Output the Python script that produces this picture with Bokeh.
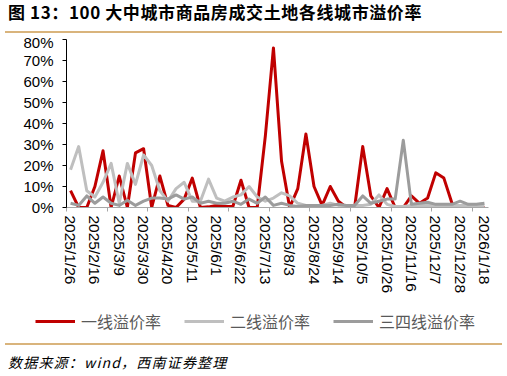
import numpy as np
from bokeh.plotting import figure
from bokeh.models import (Range1d, FixedTicker, NumeralTickFormatter, Legend,
                          LegendItem, Div, ColumnDataSource)
from bokeh.layouts import column
from bokeh.embed import file_html
from bokeh.resources import INLINE

# ---- data (weekly, 2025/1/26 .. 2026/1/18), values in % ----
week_index = list(range(52))
tick_weeks = list(range(0, 52, 3))
tick_labels = ["2025/1/26", "2025/2/16", "2025/3/9", "2025/3/30", "2025/4/20",
               "2025/5/11", "2025/6/1", "2025/6/22", "2025/7/13", "2025/8/3",
               "2025/8/24", "2025/9/14", "2025/10/5", "2025/10/26", "2025/11/16",
               "2025/12/7", "2025/12/28", "2026/1/18"]

tier1 = [8, 0, 0, 10, 27, 0, 15, 0, 26, 28, 0, 15, 1, 0, 4, 14, 0, 0.3, 1, 0.5,
         0.5, 13, 0, 0, 34, 76, 22, 0, 9, 35, 10, 1, 10, 3, 0, 0, 29, 5.5, 0, 9,
         0, 0, 5.5, 2, 4.5, 16.5, 14, 2, 0, 0, 0.5, 0]
tier2 = [18, 29, 8, 5, 12, 21, 2, 21, 11, 25, 20, 8, 3, 9, 12, 3, 3, 13.5, 4.5, 3,
         5, 6, 10, 5, 3, 4.5, 7, 5.5, 2, 1, 1, 1, 2, 1, 1, 1, 1, 1.5, 6, 1.5,
         0.5, 0.5, 1, 1, 1, 1, 1, 1, 1, 1, 1, 1]
tier3 = [2, 1, 5.5, 2, 5, 2, 1, 3.5, 1, 3, 4.5, 4.5, 4, 6, 4, 5, 2, 3, 2, 2,
         3, 1.5, 4, 2, 5, 1, 2, 1, 0.5, 1, 1, 1, 1, 1.5, 1, 1, 5.5, 2, 3, 4,
         4, 32, 1.5, 2, 2.5, 1.5, 1.5, 1.5, 3, 1.5, 1.5, 2]

series_names = ["一线溢价率", "二线溢价率", "三四线溢价率"]
series_colors = ["#C00000", "#BFBFBF", "#9C9C9C"]

title_text = "图 13：100 大中城市商品房成交土地各线城市溢价率"
source_text = "数据来源：wind，西南证券整理"

TAN = "#D9B47C"

src = ColumnDataSource(dict(
    x=week_index,
    t1=np.array(tier1) / 100.0,
    t2=np.array(tier2) / 100.0,
    t3=np.array(tier3) / 100.0,
))

# ---------------- main chart ----------------
p = figure(width=503, height=267, title=None,
           x_range=Range1d(-0.5, 51.5), y_range=Range1d(0, 0.8),
           output_backend="svg", toolbar_location=None,
           min_border_left=66, min_border_right=15,
           min_border_top=6, min_border_bottom=93)
p.frame_align = False
p.outline_line_color = None
p.xgrid.visible = False
p.ygrid.visible = False
p.background_fill_color = "white"
p.border_fill_color = "white"

p.yaxis.ticker = FixedTicker(ticks=[i / 10 for i in range(9)])
p.yaxis.formatter = NumeralTickFormatter(format="0%")
p.yaxis.axis_line_color = "black"
p.yaxis.major_tick_line_color = "black"
p.yaxis.major_tick_out = 4
p.yaxis.major_tick_in = 0
p.yaxis.minor_tick_line_color = None
p.yaxis.major_label_standoff = 9
p.yaxis.major_label_text_font = "Liberation Sans"
p.yaxis.major_label_text_font_size = "15px"
p.yaxis.major_label_text_color = "black"

p.xaxis.ticker = FixedTicker(ticks=tick_weeks,
                             minor_ticks=[-0.5 + 5 * k for k in range(11)])
p.xaxis.major_label_overrides = {w: lab for w, lab in zip(tick_weeks, tick_labels)}
p.xaxis.major_label_orientation = "vertical"
p.xaxis.axis_line_color = "#A6A6A6"
p.xaxis.major_tick_line_color = None
p.xaxis.major_tick_out = 0
p.xaxis.major_tick_in = 0
p.xaxis.minor_tick_line_color = "#A6A6A6"
p.xaxis.minor_tick_out = 4
p.xaxis.minor_tick_in = 0
p.xaxis.major_label_standoff = 4
p.xaxis.major_label_text_font = "Liberation Sans"
p.xaxis.major_label_text_font_size = "15.5px"
p.xaxis.major_label_text_color = "black"

for col, colr in zip(["t1", "t2", "t3"], series_colors):
    p.line("x", col, source=src, line_color=colr, line_width=3, line_join="round")

# ---------------- legend strip ----------------
lg = figure(width=503, height=40, title=None, x_axis_type=None, y_axis_type=None,
            x_range=Range1d(0, 1), y_range=Range1d(0, 1),
            output_backend="svg", toolbar_location=None, min_border=0)
lg.frame_align = False
lg.outline_line_color = None
lg.xgrid.visible = False
lg.ygrid.visible = False
items = []
for name, colr in zip(series_names, series_colors):
    r = lg.line(x=[np.nan], y=[np.nan], line_color=colr, line_width=3)
    items.append(LegendItem(label=name, renderers=[r]))
legend = Legend(items=items, location=(35, 7), orientation="horizontal")
legend.background_fill_alpha = 0
legend.border_line_color = None
legend.padding = 0
legend.margin = 0
legend.spacing = 23
legend.glyph_width = 40
legend.glyph_height = 18
legend.label_height = 18
legend.label_standoff = 6
legend.label_text_font = "Noto Sans CJK SC"
legend.label_text_font_size = "16px"
legend.label_text_color = "#595959"
lg.add_layout(legend)

# ---------------- title & source ----------------
title_div = Div(text=title_text, width=497, height=33, margin=(0, 0, 0, 5), styles={
    "font-family": "'Noto Sans CJK SC', sans-serif",
    "font-weight": "bold",
    "font-size": "17px",
    "letter-spacing": "0.6px",
    "line-height": "17px",
    "padding-top": "3px",
    "padding-left": "3px",
    "color": "black",
    "border-bottom": "2px solid " + TAN,
    "box-sizing": "border-box",
})

source_div = Div(text=source_text, width=497, height=27, margin=(3, 0, 0, 5), styles={
    "font-family": "'Noto Sans CJK SC', sans-serif",
    "font-style": "italic",
    "font-size": "14px",
    "letter-spacing": "1.2px",
    "line-height": "16px",
    "padding-top": "9px",
    "padding-left": "3px",
    "color": "black",
    "border-top": "2px solid " + TAN,
    "box-sizing": "border-box",
})

layout = column(title_div, p, lg, source_div, spacing=0)

open("out.html", "w").write(file_html(layout, INLINE))
